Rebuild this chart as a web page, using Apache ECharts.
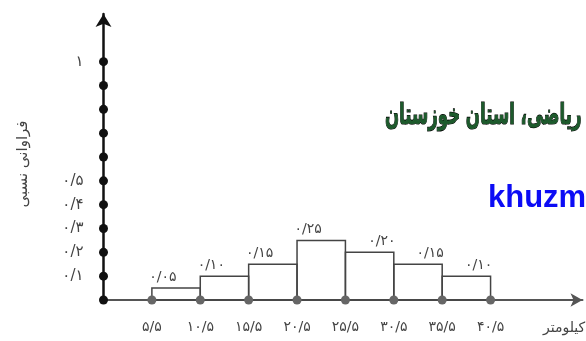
<!DOCTYPE html>
<html>
<head>
<meta charset="utf-8">
<script src="https://cdn.jsdelivr.net/npm/echarts@6/dist/echarts.min.js"></script>
<style>
html, body { margin: 0; padding: 0; background: #fff; }
#chart { width: 586px; height: 341px; }
</style>
</head>
<body>
<div id="chart"></div>
<script>
'use strict'
// class boundaries (km) and relative frequencies
var classStarts = [5.5, 10.5, 15.5, 20.5, 25.5, 30.5, 35.5];
var classEnds = [10.5, 15.5, 20.5, 25.5, 30.5, 35.5, 40.5];
var relFreq = [0.05, 0.10, 0.15, 0.25, 0.20, 0.15, 0.10];
var relFreqLabels = ['۰/۰۵', '۰/۱۰', '۰/۱۵', '۰/۲۵', '۰/۲۰', '۰/۱۵', '۰/۱۰'];
var boundaries = [5.5, 10.5, 15.5, 20.5, 25.5, 30.5, 35.5, 40.5];
var boundaryLabels = ['۵/۵', '۱۰/۵', '۱۵/۵', '۲۰/۵', '۲۵/۵', '۳۰/۵', '۳۵/۵', '۴۰/۵'];
// dots on y axis
var yDots = [0, 0.1, 0.2, 0.3, 0.4, 0.5, 0.6, 0.7, 0.8, 0.9, 1];
var yTickValues = [0.1, 0.2, 0.3, 0.4, 0.5, 1];
var yTickLabels = ['۰/۱', '۰/۲', '۰/۳', '۰/۴', '۰/۵', '۱'];

var font = 'DejaVu Sans';

$chart();
function $chart() {
    var chart = echarts.init(document.getElementById('chart'));
    var histData = [];
    for (var i = 0; i < relFreq.length; i++) {
        histData.push([classStarts[i], classEnds[i], relFreq[i], i]);
    }
    var xDotData = [];
    for (var j = 0; j < boundaries.length; j++) {
        xDotData.push([boundaries[j], 0, j]);
    }
    var yDotData = [];
    for (var k = 0; k < yDots.length; k++) {
        yDotData.push([0.5, yDots[k]]);
    }
    var option = {
        backgroundColor: '#fff',
        animation: false,
        grid: { left: 103.5, right: 3.5, top: 14, bottom: 41 },
        xAxis: {
            type: 'value', min: 0.5, max: 50,
            axisLine: {
                show: true, onZero: false,
                lineStyle: { color: '#555', width: 2 },
                symbol: ['none', 'arrow'], symbolSize: [10, 12]
            },
            axisTick: { show: false },
            axisLabel: { show: false },
            splitLine: { show: false }
        },
        yAxis: {
            type: 'value', min: 0, max: 1.2, interval: 0.1,
            axisLine: {
                show: true,
                lineStyle: { color: '#111', width: 2.5 },
                symbol: ['none', 'arrow'], symbolSize: [12, 13]
            },
            axisTick: { show: false },
            splitLine: { show: false },
            axisLabel: {
                margin: 20, color: '#444', fontSize: 15, fontFamily: font,
                formatter: function (v) {
                    for (var i = 0; i < yTickValues.length; i++) {
                        if (Math.abs(yTickValues[i] - v) < 1e-6) return yTickLabels[i];
                    }
                    return '';
                }
            }
        },
        graphic: [
            {
                type: 'text', x: 23, y: 164, rotation: Math.PI / 2,
                style: {
                    text: 'فراوانی نسبی', align: 'center', verticalAlign: 'middle',
                    fontFamily: font, fontSize: 15, fill: '#444'
                }
            },
            {
                type: 'text', x: 543, y: 328,
                style: {
                    text: 'کیلومتر', align: 'left', verticalAlign: 'middle',
                    fontFamily: font, fontSize: 14, fill: '#444'
                }
            },
            {
                type: 'text', x: 385, y: 116, scaleX: 0.57,
                style: {
                    text: 'گروه ریاضی، استان خوزستان', align: 'left', verticalAlign: 'middle',
                    fontFamily: font, fontWeight: 'bold', fontSize: 29,
                    fill: '#1d5a2c', stroke: '#000', lineWidth: 1.2
                }
            },
            {
                type: 'text', x: 488, y: 198,
                style: {
                    text: 'khuzmath.ir', align: 'left', verticalAlign: 'middle',
                    fontFamily: 'Liberation Sans', fontWeight: 'bold', fontSize: 31,
                    fill: '#0c0cf5'
                }
            }
        ],
        series: [
            {
                type: 'custom',
                data: histData,
                z: 2,
                renderItem: function (params, api) {
                    var p0 = api.coord([api.value(0), 0]);
                    var p1 = api.coord([api.value(1), api.value(2)]);
                    var idx = api.value(3);
                    var tx = idx < 4 ? p0[0] + 11 : p1[0] - 12;
                    return {
                        type: 'group',
                        children: [
                            {
                                type: 'rect',
                                shape: { x: p0[0], y: p1[1], width: p1[0] - p0[0], height: p0[1] - p1[1] },
                                style: { fill: 'none', stroke: '#444', lineWidth: 1.5 }
                            },
                            {
                                type: 'text',
                                x: tx, y: p1[1] - 4,
                                style: {
                                    text: relFreqLabels[idx], align: 'center', verticalAlign: 'bottom',
                                    fontFamily: font, fontSize: 14, fill: '#444'
                                }
                            }
                        ]
                    };
                }
            },
            {
                type: 'scatter',
                data: xDotData,
                symbolSize: 9,
                z: 5,
                itemStyle: { color: '#666', opacity: 1 },
                label: {
                    show: true, position: 'bottom', distance: 16,
                    fontFamily: font, fontSize: 14, color: '#444',
                    formatter: function (p) { return boundaryLabels[p.data[2]]; }
                }
            },
            {
                type: 'scatter',
                data: yDotData,
                symbolSize: 9,
                z: 6,
                itemStyle: { color: '#111', opacity: 1 }
            }
        ]
    };
    chart.setOption(option);
}
</script>
</body>
</html>
